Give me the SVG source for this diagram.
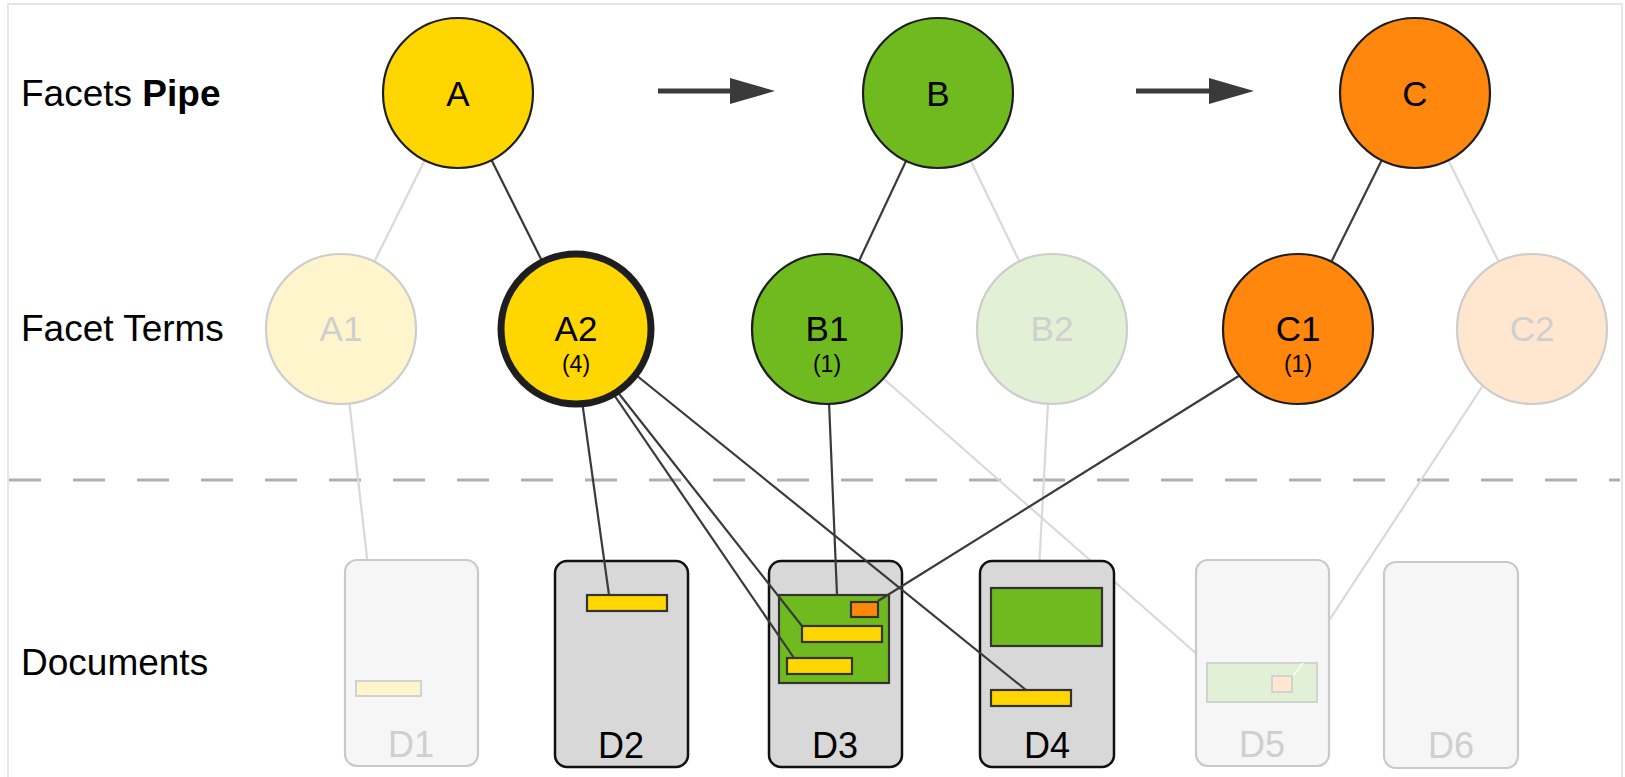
<svg xmlns="http://www.w3.org/2000/svg" width="1625" height="777" viewBox="0 0 1625 777">
<defs>
<style>
text{font-family:"Liberation Sans",Arial,sans-serif;fill:#000}
.row{font-size:37px}
.lbl{font-size:35px;text-anchor:middle}
.cnt{font-size:23px;text-anchor:middle}
.pale{fill:#cfcfcf}
.dlbl{font-size:36px;text-anchor:middle}
.dark{stroke:#3a3a3a;stroke-width:2.2;fill:none}
.light{stroke:#d9d9d9;stroke-width:2.2;fill:none}
.node{stroke:#1e1e1e;stroke-width:2.2}
.pnode{stroke:#cdcdcd;stroke-width:2.2}
.doc{fill:#d8d8d8;stroke:#111;stroke-width:2.5}
.pdoc{fill:#f6f6f6;stroke:#c9c9c9;stroke-width:2.2}
.in{stroke:#333;stroke-width:2.2}
.pin{stroke:#d2d2d2;stroke-width:2}
.y{fill:#ffd600}.g{fill:#6fba1f}.o{fill:#ff870e}
.py{fill:#fff5cc}.pg{fill:#e2f0d5}.po{fill:#ffe6cf}
.arr{stroke:#3a3a3a;stroke-width:5}
.head{fill:#3a3a3a}
</style>
</defs>
<rect x="8" y="4" width="1614" height="800" fill="#fff" stroke="#e6e6e6" stroke-width="2"/>
<line x1="9" y1="480" x2="1620" y2="480" stroke="#b0b0b0" stroke-width="3" stroke-dasharray="32 32"/>
<g id="row-labels">
<text class="row" x="21" y="106">Facets <tspan font-weight="bold">Pipe</tspan></text>
<text class="row" x="21" y="341">Facet Terms</text>
<text class="row" x="21" y="675">Documents</text>
</g>
<g id="light-connectors">
<line class="light" x1="458" y1="93" x2="341" y2="329"/>
<line class="light" x1="938" y1="93" x2="1052" y2="329"/>
<line class="light" x1="1415" y1="93" x2="1532" y2="329"/>
<line class="light" x1="341" y1="329" x2="381" y2="681"/>
<line class="light" x1="1052" y1="329" x2="1038" y2="588"/>
<line class="light" x1="827" y1="329" x2="1207" y2="663"/>
<line class="light" x1="1520" y1="329" x2="1292" y2="677"/>
</g>
<g id="D1"><rect class="pdoc" x="345" y="560" width="133" height="206" rx="12"/><rect class="pin py" x="356" y="681" width="65" height="15"/><text class="dlbl pale" x="411" y="757">D1</text></g>
<g id="D2"><rect class="doc" x="555" y="561" width="133" height="206" rx="12"/><rect class="in y" x="587" y="595" width="80" height="16"/><text class="dlbl" x="621" y="758">D2</text></g>
<g id="D3"><rect class="doc" x="769" y="561" width="133" height="206" rx="12"/><rect class="in g" x="779" y="595" width="110" height="88"/><rect class="in o" x="851" y="602" width="27" height="15"/><rect class="in y" x="802" y="626" width="80" height="16"/><rect class="in y" x="787" y="658" width="65" height="16"/><text class="dlbl" x="835" y="758">D3</text></g>
<g id="D4"><rect class="doc" x="980" y="561" width="134" height="206" rx="12"/><rect class="in g" x="991" y="588" width="111" height="58"/><rect class="in y" x="991" y="690" width="80" height="16"/><text class="dlbl" x="1047" y="758">D4</text></g>
<g id="D5"><rect class="pdoc" x="1196" y="560" width="133" height="206" rx="12"/><rect class="pin pg" x="1207" y="663" width="110" height="39"/><line x1="1303" y1="663" x2="1293" y2="676" stroke="#f7faf3" stroke-width="2"/><rect class="pin po" x="1272" y="676" width="20" height="16"/><text class="dlbl pale" x="1262" y="757">D5</text></g>
<g id="D6"><rect class="pdoc" x="1384" y="562" width="134" height="206" rx="12"/><text class="dlbl pale" x="1451" y="758">D6</text></g>
<g id="connectors">
<line class="dark" x1="458" y1="93" x2="576" y2="329"/>
<line class="dark" x1="938" y1="93" x2="827" y2="329"/>
<line class="dark" x1="1415" y1="93" x2="1298" y2="329"/>
<line class="dark" x1="572" y1="329" x2="609" y2="595"/>
<line class="dark" x1="569" y1="329" x2="794" y2="658"/>
<line class="dark" x1="568" y1="329" x2="802" y2="626"/>
<line class="dark" x1="579" y1="329" x2="1026" y2="690"/>
<line class="dark" x1="826" y1="329" x2="837" y2="595"/>
<line class="dark" x1="1250" y1="369" x2="878" y2="601"/>
<line class="arr" x1="658" y1="91" x2="731" y2="91"/>
<polygon class="head" points="730,78 775,91 730,104"/>
<line class="arr" x1="1136" y1="91" x2="1210" y2="91"/>
<polygon class="head" points="1209,78 1254,91 1209,104"/>
</g>
<g id="A"><circle class="node y" cx="458" cy="93" r="75"/><text class="lbl" x="458" y="106">A</text></g>
<g id="B"><circle class="node g" cx="938" cy="93" r="75"/><text class="lbl" x="938" y="106">B</text></g>
<g id="C"><circle class="node o" cx="1415" cy="93" r="75"/><text class="lbl" x="1415" y="106">C</text></g>
<g id="A1"><circle class="pnode py" cx="341" cy="329" r="75"/><text class="lbl pale" x="341" y="341">A1</text></g>
<g id="A2"><circle class="y" cx="576" cy="329" r="75" stroke="#1e1e1e" stroke-width="7"/><text class="lbl" x="576" y="341">A2</text><text class="cnt" x="576" y="372">(4)</text></g>
<g id="B1"><circle class="node g" cx="827" cy="329" r="75"/><text class="lbl" x="827" y="341">B1</text><text class="cnt" x="827" y="372">(1)</text></g>
<g id="B2"><circle class="pnode pg" cx="1052" cy="329" r="75"/><text class="lbl pale" x="1052" y="341">B2</text></g>
<g id="C1"><circle class="node o" cx="1298" cy="329" r="75"/><text class="lbl" x="1298" y="341">C1</text><text class="cnt" x="1298" y="372">(1)</text></g>
<g id="C2"><circle class="pnode po" cx="1532" cy="329" r="75"/><text class="lbl pale" x="1532" y="341">C2</text></g>
</svg>
